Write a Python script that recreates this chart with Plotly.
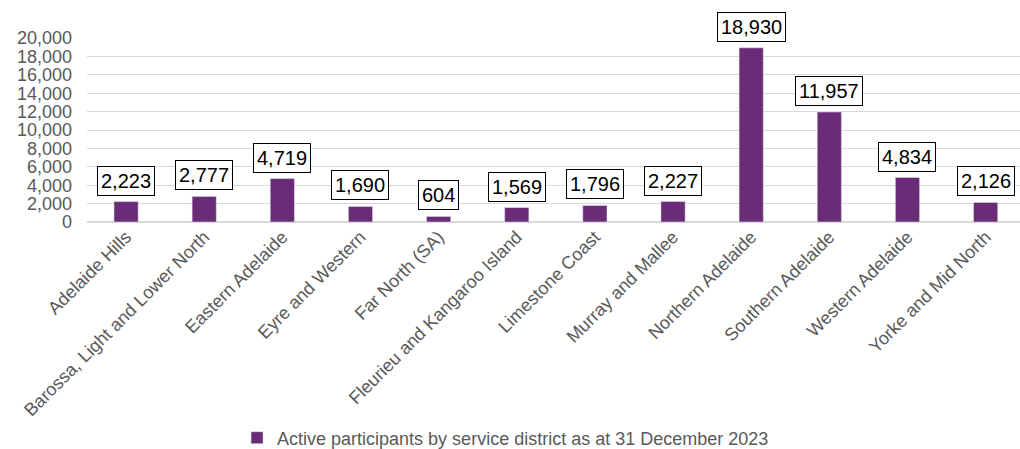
import plotly.graph_objects as go

categories = ["Adelaide Hills", "Barossa, Light and Lower North", "Eastern Adelaide",
              "Eyre and Western", "Far North (SA)", "Fleurieu and Kangaroo Island",
              "Limestone Coast", "Murray and Mallee", "Northern Adelaide",
              "Southern Adelaide", "Western Adelaide", "Yorke and Mid North"]
values = [2223, 2777, 4719, 1690, 604, 1569, 1796, 2227, 18930, 11957, 4834, 2126]
series_name = "Active participants by service district as at 31 December 2023"
y_ticks = list(range(0, 20001, 2000))

BAR = "#6A2C77"
GRAY = "#595959"
FONT = "Liberation Sans, Arial, sans-serif"

fig = go.Figure()
fig.add_trace(go.Bar(x=categories, y=values, name=series_name, marker_color=BAR,
                     showlegend=True))

for c, v in zip(categories, values):
    fig.add_annotation(x=c, y=v, text=f"{v:,}", showarrow=False, yanchor="bottom",
                       yshift=6, bgcolor="white", bordercolor="black", borderwidth=1,
                       borderpad=3, font=dict(family=FONT, size=20, color="black"))

fig.update_layout(
    width=1020, height=449,
    margin=dict(l=87, r=0, t=38, b=227, autoexpand=False),
    plot_bgcolor="white", paper_bgcolor="white",
    bargap=0.69,
    font=dict(family=FONT, color=GRAY),
    xaxis=dict(tickangle=-45, tickfont=dict(size=18, color=GRAY), showgrid=False,
               showline=False, ticks="", range=[-0.5, 11.44], automargin=False),
    yaxis=dict(range=[0, 20000], tickvals=y_ticks, tickformat=",",
               tickfont=dict(size=18, color=GRAY), gridcolor="#D9D9D9",
               zeroline=True, zerolinecolor="#D9D9D9", ticks="", showline=False,
               automargin=False, ticklabelstandoff=14),
    showlegend=True,
    legend=dict(orientation="h", x=0.4486, xanchor="center",
                y=-1.174, yanchor="middle", font=dict(size=18, color=GRAY),
                itemwidth=30),
)

fig.write_html("out.html", config={"displayModeBar": False},
               post_script="document.body.style.margin='0';")
